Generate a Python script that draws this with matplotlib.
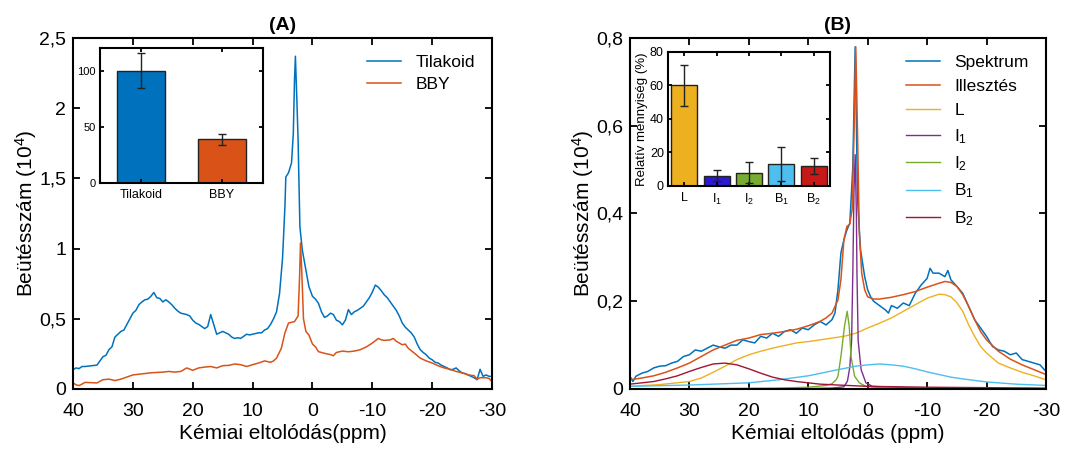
import numpy as np
import matplotlib
matplotlib.use("Agg")
import matplotlib.pyplot as plt
from matplotlib.ticker import FuncFormatter

plt.rcParams["font.family"] = ["Liberation Sans", "DejaVu Sans"]
plt.rcParams["mathtext.fontset"] = "custom"
plt.rcParams["mathtext.rm"] = "Liberation Sans"
plt.rcParams["mathtext.it"] = "Liberation Sans:italic"
plt.rcParams["axes.unicode_minus"] = False

# ---- (A) spectra ----
tila_ppm = [40, 39.5, 39, 38.5, 38, 37, 36, 35.5, 35, 34.5, 34, 33.5, 33, 32.5, 32, 31.5, 31, 30.5, 30, 29.5,
            29, 28.5, 28, 27.5, 27, 26.5, 26, 25.5, 25, 24.5, 24, 23.5, 23, 22.5, 22, 21.5, 21, 20.5, 20, 19.5,
            19, 18.5, 18, 17.5, 17, 16.5, 16, 15.5, 15, 14.5, 14, 13.5, 13, 12.5, 12, 11.5, 11, 10.5, 10, 9.5,
            9, 8.5, 8, 7.5, 7, 6.5, 6, 5.5, 5, 4.6, 4.45, 4.0, 3.5, 3.2, 3.0, 2.85, 2.6, 2.4, 2.1, 1.7,
            1.1, 0.6, 0, -0.5, -1, -1.5, -2, -2.5, -3, -3.5, -4, -4.5, -5, -5.5, -6, -6.5, -7, -7.5,
            -8, -8.5, -9, -9.5, -10, -10.5, -11, -11.5, -12, -12.5, -13, -13.5, -14, -14.5, -15, -15.5,
            -16, -16.5, -17, -17.5, -18, -18.5, -19, -19.5, -20, -20.5, -21, -21.5, -22, -22.5, -23, -23.5,
            -24, -24.5, -25, -25.5, -26, -26.5, -27, -27.5, -28, -28.5, -29, -29.5, -30]
tilakoid = [0.137, 0.15, 0.145, 0.16, 0.16, 0.165, 0.17, 0.20, 0.23, 0.24, 0.28, 0.30, 0.37, 0.39, 0.41, 0.42,
            0.46, 0.50, 0.54, 0.56, 0.60, 0.62, 0.635, 0.64, 0.66, 0.687, 0.65, 0.645, 0.62, 0.635, 0.62, 0.60,
            0.575, 0.555, 0.54, 0.535, 0.53, 0.52, 0.49, 0.47, 0.46, 0.445, 0.43, 0.445, 0.53, 0.46, 0.39, 0.40,
            0.41, 0.40, 0.39, 0.37, 0.36, 0.365, 0.36, 0.375, 0.39, 0.385, 0.39, 0.395, 0.40, 0.40, 0.42, 0.43,
            0.46, 0.50, 0.55, 0.68, 0.93, 1.30, 1.51, 1.54, 1.61, 1.82, 2.20, 2.37, 2.05, 1.77, 1.156, 0.99,
            0.85, 0.73, 0.66, 0.64, 0.61, 0.55, 0.51, 0.52, 0.54, 0.53, 0.49, 0.48, 0.457, 0.49, 0.565, 0.53,
            0.55, 0.56, 0.575, 0.59, 0.62, 0.65, 0.69, 0.74, 0.725, 0.70, 0.67, 0.65, 0.62, 0.59, 0.56, 0.52,
            0.47, 0.44, 0.42, 0.40, 0.37, 0.32, 0.28, 0.26, 0.244, 0.22, 0.208, 0.19, 0.185, 0.17, 0.16, 0.15,
            0.137, 0.14, 0.15, 0.13, 0.114, 0.11, 0.10, 0.09, 0.08, 0.066, 0.14, 0.09, 0.10, 0.09, 0.09]

bby_ppm = [40, 39.5, 39, 38.5, 38, 37, 36, 35, 34, 33, 32, 31, 30, 29, 28, 27, 26, 25, 24, 23, 22, 21, 20,
           19, 18, 17, 16, 15, 14, 13, 12, 11, 10, 9, 8, 7, 6.5, 6, 5.2, 4.6, 4.0, 3.5, 3.0, 2.4, 2.15, 2.0,
           1.8, 1.5, 1.1, 0.6, 0, -0.5, -1, -2, -3, -3.5, -4, -5, -6, -7, -8, -9, -10, -11, -11.5, -12,
           -13, -13.5, -14, -15, -15.5, -16, -17, -18, -19, -20, -21, -22, -23, -24, -25, -26, -27, -27.5,
           -28, -29, -29.5, -30]
bby = [0.043, 0.03, 0.024, 0.035, 0.047, 0.045, 0.043, 0.066, 0.07, 0.06, 0.07, 0.085, 0.10, 0.105, 0.11,
       0.115, 0.118, 0.12, 0.125, 0.12, 0.125, 0.15, 0.133, 0.15, 0.156, 0.16, 0.15, 0.166, 0.168, 0.178,
       0.173, 0.16, 0.173, 0.185, 0.20, 0.19, 0.20, 0.22, 0.29, 0.40, 0.47, 0.475, 0.48, 0.52, 0.80, 1.04,
       0.85, 0.50, 0.41, 0.385, 0.32, 0.30, 0.266, 0.254, 0.245, 0.237, 0.26, 0.27, 0.265, 0.27, 0.28, 0.30,
       0.327, 0.36, 0.35, 0.346, 0.35, 0.36, 0.34, 0.315, 0.32, 0.29, 0.256, 0.22, 0.20, 0.185, 0.165, 0.15,
       0.14, 0.125, 0.115, 0.10, 0.095, 0.07, 0.08, 0.08, 0.075, 0.05]

samples = ["Tilakoid", "BBY"]
sample_mean = [100, 39]
sample_err = [15.5, 5]

# ---- (B) spectrum and fit components ----
spec_ppm = [40, 39.5, 39, 38, 37, 36, 35, 34, 33, 32, 31, 30, 29, 28, 27, 26, 25, 24, 23, 22, 21, 20, 19,
            18, 17, 16, 15, 14, 13, 12, 11, 10, 9, 8, 7, 6, 5.5, 5, 4.5, 4, 3.5, 3, 2.5, 2.1, 1.7, 1.2, 0.5,
            0, -0.5, -1, -2, -3, -3.5, -4, -5, -6, -7, -8, -9, -10, -10.5, -11, -12, -13, -13.5, -14, -15,
            -16, -17, -18, -19, -20, -21, -22, -23, -24, -25, -26, -27, -28, -29, -30]
spektrum = [0.029, 0.017, 0.029, 0.036, 0.04, 0.048, 0.052, 0.053, 0.059, 0.063, 0.074, 0.078, 0.089, 0.086,
            0.093, 0.10, 0.096, 0.093, 0.10, 0.10, 0.112, 0.108, 0.105, 0.12, 0.116, 0.127, 0.12, 0.131, 0.135,
            0.127, 0.139, 0.135, 0.146, 0.154, 0.146, 0.158, 0.173, 0.226, 0.31, 0.34, 0.362, 0.378, 0.506,
            0.78, 0.43, 0.317, 0.256, 0.226, 0.21, 0.20, 0.19, 0.18, 0.173, 0.19, 0.184, 0.196, 0.19, 0.218,
            0.237, 0.252, 0.275, 0.264, 0.264, 0.256, 0.27, 0.249, 0.234, 0.218, 0.188, 0.158, 0.139, 0.12,
            0.097, 0.089, 0.086, 0.078, 0.082, 0.067, 0.063, 0.059, 0.055, 0.040]

fit_ppm = [40, 38, 36, 34, 32, 30, 28, 26, 24, 22, 20, 18, 16, 14, 12, 10, 8, 7, 6, 5, 4.5, 4, 3.5, 3.0,
           2.6, 2.3, 2.0, 1.7, 1.4, 1.0, 0.5, 0, -1, -2, -4, -6, -8, -10, -12, -13, -14, -15, -16, -17, -18,
           -19, -20, -22, -24, -26, -28, -30]
illesztes = [0.021, 0.025, 0.03, 0.038, 0.048, 0.059, 0.074, 0.089, 0.10, 0.111, 0.116, 0.124, 0.127, 0.131,
             0.136, 0.144, 0.154, 0.162, 0.173, 0.203, 0.249, 0.34, 0.37, 0.376, 0.41, 0.58, 0.78, 0.58,
             0.355, 0.264, 0.226, 0.21, 0.205, 0.205, 0.209, 0.215, 0.222, 0.232, 0.241, 0.245, 0.243, 0.234,
             0.215, 0.188, 0.158, 0.131, 0.112, 0.086, 0.068, 0.055, 0.044, 0.033]

L_ppm = [40, 35, 30, 28, 26, 24, 22, 20, 18, 16, 14, 12, 10, 8, 6, 4, 2, 0, -2, -4, -6, -8, -10, -12, -13,
         -14, -15, -16, -17, -18, -19, -20, -22, -24, -26, -28, -30]
comp_L = [0.006, 0.01, 0.017, 0.025, 0.038, 0.052, 0.067, 0.078, 0.086, 0.093, 0.099, 0.105, 0.108, 0.112,
          0.116, 0.12, 0.127, 0.139, 0.15, 0.162, 0.177, 0.192, 0.207, 0.216, 0.215, 0.21, 0.197, 0.177,
          0.146, 0.12, 0.097, 0.082, 0.059, 0.048, 0.038, 0.03, 0.021]

I1_ppm = [40, 10, 6, 4, 3.4, 3.0, 2.7, 2.5, 2.3, 2.1, 1.9, 1.8, 1.6, 1.1, 0.3, -0.8, -10, -30]
comp_I1 = [0.0, 0.001, 0.002, 0.005, 0.018, 0.05, 0.11, 0.264, 0.45, 0.534, 0.40, 0.264, 0.11, 0.044, 0.014,
           0.006, 0.001, 0.0]

I2_ppm = [40, 15, 10, 7, 6, 5.3, 5.0, 4.5, 3.9, 3.45, 3.1, 2.8, 2.2, 1.4, 0.3, -2, -10, -30]
comp_I2 = [0.0, 0.002, 0.004, 0.008, 0.012, 0.021, 0.029, 0.074, 0.143, 0.177, 0.143, 0.074, 0.029, 0.014,
           0.006, 0.003, 0.001, 0.0]

B1_ppm = [40, 30, 20, 15, 10, 5, 2, 0, -2, -4, -6, -8, -10, -12, -14, -16, -20, -25, -30]
comp_B1 = [0.006, 0.009, 0.014, 0.021, 0.03, 0.044, 0.052, 0.055, 0.057, 0.055, 0.052, 0.046, 0.039, 0.033,
           0.027, 0.023, 0.016, 0.011, 0.008]

B2_ppm = [40, 38, 36, 34, 32, 30, 28, 26, 24, 22, 20, 18, 16, 14, 12, 10, 8, 5, 0, -10, -30]
comp_B2 = [0.011, 0.014, 0.017, 0.023, 0.03, 0.04, 0.049, 0.057, 0.059, 0.055, 0.046, 0.036, 0.027, 0.021,
           0.017, 0.014, 0.011, 0.009, 0.006, 0.004, 0.002]

parts = ["L", r"$\mathregular{I_1}$", r"$\mathregular{I_2}$", r"$\mathregular{B_1}$", r"$\mathregular{B_2}$"]
part_mean = [60, 6, 8, 13, 12]
part_err = [12, 3.3, 6.4, 10, 4.9]

C_BLUE, C_ORANGE, C_YELLOW = "#0072BD", "#D95319", "#EDB120"
C_PURPLE, C_GREEN, C_CYAN, C_WINE = "#7E2F8E", "#77AC30", "#4DBEEE", "#A2142F"

comma = FuncFormatter(lambda v, p: f"{v:g}".replace(".", ","))


def style_axes(ax, size, xpad=8, ypad=5, length=5):
    ax.tick_params(direction="in", top=True, right=True, labelsize=size, width=1.3, length=length)
    ax.tick_params(axis="x", pad=xpad)
    ax.tick_params(axis="y", pad=ypad)
    for s in ax.spines.values():
        s.set_linewidth(1.5)


fig = plt.figure(figsize=(10.85, 4.5), dpi=100)

# ---------- (A) ----------
axA = fig.add_axes([0.0673, 0.1356, 0.3862, 0.78])
axA.plot(tila_ppm, tilakoid, color=C_BLUE, lw=1.1, label="Tilakoid")
axA.plot(bby_ppm, bby, color=C_ORANGE, lw=1.1, label="BBY")
axA.set_xlim(40, -30)
axA.set_ylim(0, 2.5)
axA.set_xticks(np.arange(40, -31, -10))
axA.set_yticks(np.arange(0, 2.51, 0.5))
axA.yaxis.set_major_formatter(comma)
style_axes(axA, 14, xpad=10)
axA.set_xlabel("Kémiai eltolódás(ppm)", fontsize=15, labelpad=3)
axA.set_ylabel(r"Beütésszám $\mathregular{(10^4)}$", fontsize=15, labelpad=0)
axA.set_title("(A)", fontsize=14, fontweight="bold", pad=6)
axA.legend(loc="upper right", frameon=False, fontsize=12.5, handlelength=2.0,
           borderaxespad=0.6, labelspacing=0.35)

inA = fig.add_axes([0.0922, 0.5933, 0.1502, 0.30])
inA.bar([1, 2], sample_mean, width=0.6, color=[C_BLUE, C_ORANGE], edgecolor="#222222", lw=1)
inA.errorbar([1, 2], sample_mean, yerr=sample_err, fmt="none", ecolor="#222222", elinewidth=1, capsize=3)
inA.set_xlim(0.49, 2.51)
inA.set_ylim(0, 120)
inA.set_xticks([1, 2])
inA.set_xticklabels(samples)
inA.set_yticks([0, 50, 100])
style_axes(inA, 8, xpad=4, ypad=3, length=3)
inA.tick_params(axis="x", labelsize=9)

# ---------- (B) ----------
axB = fig.add_axes([0.5806, 0.1356, 0.3834, 0.78])
axB.plot(spec_ppm, spektrum, color=C_BLUE, lw=1.1, label="Spektrum")
axB.plot(fit_ppm, illesztes, color=C_ORANGE, lw=1.1, label="Illesztés")
axB.plot(L_ppm, comp_L, color=C_YELLOW, lw=1.0, label="L")
axB.plot(I1_ppm, comp_I1, color=C_PURPLE, lw=1.0, label=r"$\mathregular{I_1}$")
axB.plot(I2_ppm, comp_I2, color=C_GREEN, lw=1.0, label=r"$\mathregular{I_2}$")
axB.plot(B1_ppm, comp_B1, color=C_CYAN, lw=1.0, label=r"$\mathregular{B_1}$")
axB.plot(B2_ppm, comp_B2, color=C_WINE, lw=1.0, label=r"$\mathregular{B_2}$")
axB.set_xlim(40, -30)
axB.set_ylim(0, 0.8)
axB.set_xticks(np.arange(40, -31, -10))
axB.set_yticks(np.arange(0, 0.81, 0.2))
axB.yaxis.set_major_formatter(comma)
style_axes(axB, 14, xpad=10)
axB.set_xlabel("Kémiai eltolódás (ppm)", fontsize=15, labelpad=3)
axB.set_ylabel(r"Beütésszám $\mathregular{(10^4)}$", fontsize=15, labelpad=0)
axB.set_title("(B)", fontsize=14, fontweight="bold", pad=6)
axB.legend(loc="upper right", frameon=False, fontsize=12.5, handlelength=2.0,
           borderaxespad=0.6, labelspacing=0.5)

inB = fig.add_axes([0.6157, 0.5867, 0.1493, 0.2978])
inB.bar(range(1, 6), part_mean, width=0.8,
        color=[C_YELLOW, "#2A1AD0", C_GREEN, C_CYAN, "#C81818"], edgecolor="#222222", lw=1)
inB.errorbar(range(1, 6), part_mean, yerr=part_err, fmt="none", ecolor="#222222", elinewidth=1, capsize=3)
inB.set_xlim(0.5, 5.5)
inB.set_ylim(0, 80)
inB.set_xticks(range(1, 6))
inB.set_xticklabels(parts)
inB.set_yticks([0, 20, 40, 60, 80])
style_axes(inB, 9, xpad=4, ypad=3, length=3)
inB.set_ylabel("Relatív mennyiség (%)", fontsize=9.5, labelpad=1)

fig.savefig("out.png", dpi=100)
